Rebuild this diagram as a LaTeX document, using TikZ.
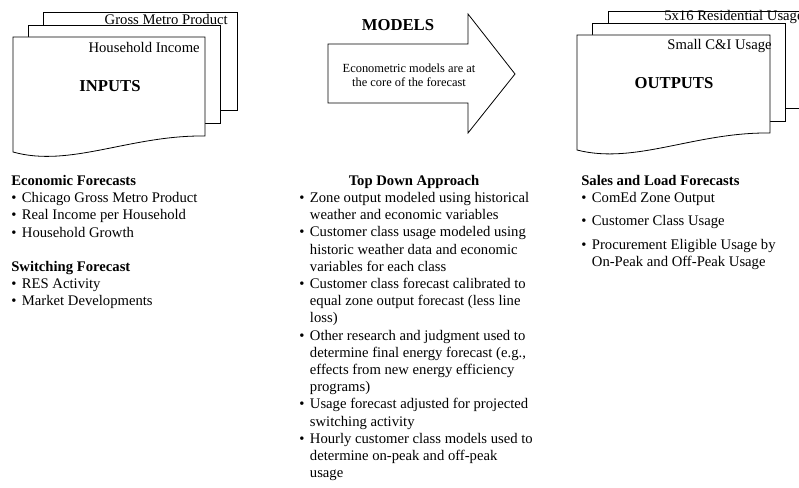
\documentclass[tikz,border=0pt]{standalone}
\usepackage{fontspec}
\setmainfont{Liberation Serif}
\newcommand\itm{\makebox[8pt][l]{\textbullet}}
\newcommand\cont{\hspace*{8pt}}
\begin{document}
\begin{tikzpicture}[x=0.75pt,y=-0.75pt,
	page/.style={draw,fill=white,line width=0.6pt},
	body/.style={font=\fontsize{11}{12.9}\selectfont,inner sep=0pt,align=left},
	small/.style={font=\fontsize{9.3}{10.5}\selectfont,inner sep=0pt,align=center},
	heading/.style={font=\fontsize{12.5}{14}\selectfont\bfseries,inner sep=0pt}]
	\useasboundingbox (0,0) rectangle (799,488);
	\clip (0,0) rectangle (799,488);
	% input pages, back to front
	\draw[page] (43,12) rectangle (237,110);
	\draw[page] (28,25) rectangle (220,123);
	\draw[page] (13,37) -- (205,37) -- (205,136) .. controls (130,135) and (70,168) .. (13,152) -- cycle;
	\node[body,anchor=east] (gmp) at (228,19) {Gross Metro Product};
	\node[body,anchor=east] (hhinc) at (200,47) {Household Income};
	\node[heading] (inputs) at (110,86) {INPUTS};
	% the models arrow
	\draw[page] (328,44) -- (468,44) -- (468,14) -- (515,74) -- (468,133) -- (468,103) -- (328,103) -- cycle;
	\node[heading] (models) at (398,25) {MODELS};
	\node[small] (core) at (409,75) {Econometric models are at\\the core of the forecast};
	% output pages, back to front
	\draw[page] (608,108) -- (608,11) -- (830,11) -- (830,108) -- cycle;
	\draw[page] (592,23) rectangle (785,121);
	\draw[page] (577,35) -- (770,35) -- (770,133) .. controls (695,132) and (635,165) .. (577,150) -- cycle;
	\node[body,anchor=west] (res) at (664,17) {5x16 Residential Usage};
	\node[body,anchor=east] (smci) at (772,46) {Small C\&I Usage};
	\node[heading] (outputs) at (674,83) {OUTPUTS};
	% text columns
	\node[body,anchor=north west] (inlist) at (11,175) {%
		\textbf{Economic Forecasts}\\
		\itm Chicago Gross Metro Product\\
		\itm Real Income per Household\\
		\itm Household Growth\\[12.9pt]
		\textbf{Switching Forecast}\\
		\itm RES Activity\\
		\itm Market Developments};
	\node[body,anchor=north,font=\fontsize{11}{12.9}\selectfont\bfseries] (tdhead) at (414,175) {Top Down Approach};
	\node[body,anchor=north west] (tdlist) at (299,192) {%
		\itm Zone output modeled using historical\\
		\cont weather and economic variables\\
		\itm Customer class usage modeled using\\
		\cont historic weather data and economic\\
		\cont variables for each class\\
		\itm Customer class forecast calibrated to\\
		\cont equal zone output forecast (less line\\
		\cont loss)\\
		\itm Other research and judgment used to\\
		\cont determine final energy forecast (e.g.,\\
		\cont effects from new energy efficiency\\
		\cont programs)\\
		\itm Usage forecast adjusted for projected\\
		\cont switching activity\\
		\itm Hourly customer class models used to\\
		\cont determine on-peak and off-peak\\
		\cont usage};
	\node[body,anchor=north west] (outlist) at (581,175) {%
		\textbf{Sales and Load Forecasts}\\
		\itm ComEd Zone Output\\[4.5pt]
		\itm Customer Class Usage\\[4.5pt]
		\itm Procurement Eligible Usage by\\
		\cont On-Peak and Off-Peak Usage};
\end{tikzpicture}
\end{document}
